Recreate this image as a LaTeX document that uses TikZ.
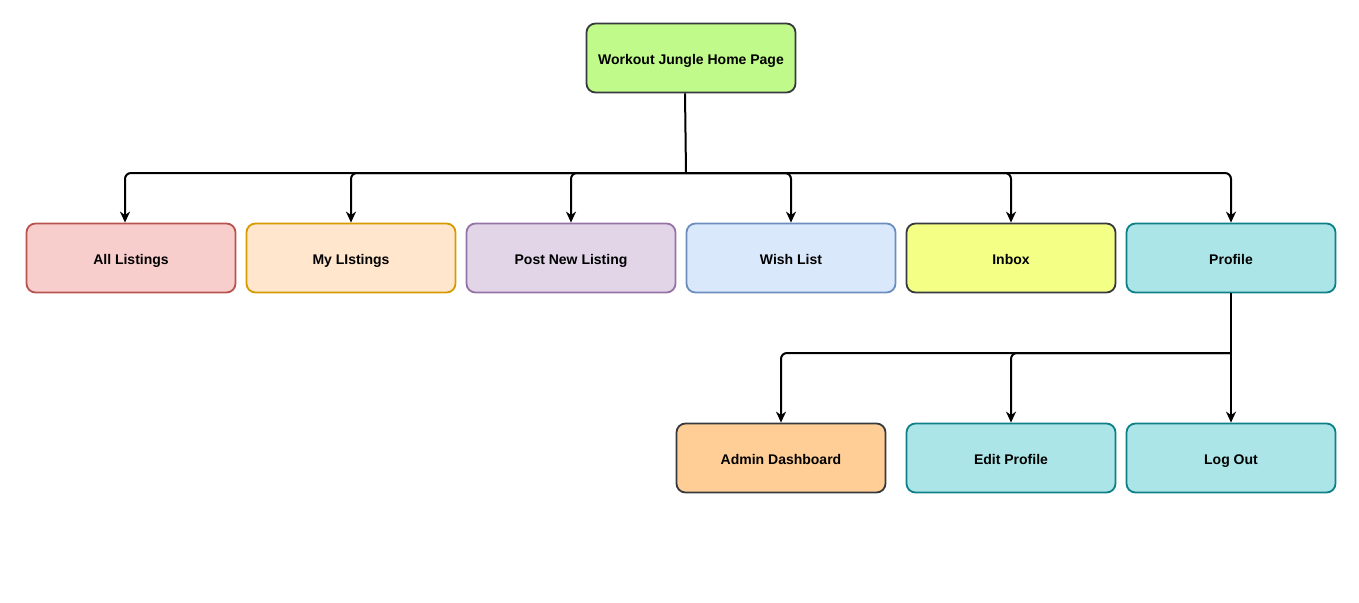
\documentclass[tikz,border=0pt]{standalone}
\usepackage{fontspec}
\setmainfont{Liberation Sans}
\usetikzlibrary{arrows.meta}
\definecolor{gfill}{HTML}{C0FA8A}
\definecolor{dstroke}{HTML}{36393D}
\definecolor{rfill}{HTML}{F8CECC}\definecolor{rstroke}{HTML}{B85450}
\definecolor{ofill}{HTML}{FFE6CC}\definecolor{ostroke}{HTML}{D79B00}
\definecolor{pfill}{HTML}{E1D5E7}\definecolor{pstroke}{HTML}{9673A6}
\definecolor{bfill}{HTML}{DAE8FC}\definecolor{bstroke}{HTML}{6C8EBF}
\definecolor{yfill}{HTML}{F3FF85}
\definecolor{tfill}{HTML}{ABE5E7}\definecolor{tstroke}{HTML}{0E8088}
\definecolor{afill}{HTML}{FFCE96}
\tikzset{
  box/.style={draw, rounded corners=9pt, line width=1.8pt, minimum width=209pt, minimum height=69pt,
    inner sep=0pt, text height=14pt, text depth=2pt,
    font=\fontsize{14}{16}\selectfont\bfseries, text=black},
  conn/.style={line width=2pt, black},
  arr/.style={conn, rounded corners=6pt, -{Stealth[length=11pt,width=10pt,inset=3.5pt]}},
}
\begin{document}
\begin{tikzpicture}[x=1pt,y=-1pt]
\useasboundingbox (0,0) rectangle (1359,602);
\node[box, fill=gfill, draw=dstroke] (home) at (691,58) {Workout Jungle Home Page};
\node[box, fill=rfill, draw=rstroke] (all) at (131,258) {All Listings};
\node[box, fill=ofill, draw=ostroke] (my) at (351,258) {My LIstings};
\node[box, fill=pfill, draw=pstroke] (post) at (571,258) {Post New Listing};
\node[box, fill=bfill, draw=bstroke] (wish) at (791,258) {Wish List};
\node[box, fill=yfill, draw=dstroke] (inbox) at (1011,258) {Inbox};
\node[box, fill=tfill, draw=tstroke] (profile) at (1231,258) {Profile};
\node[box, fill=afill, draw=dstroke] (admin) at (781,458) {Admin Dashboard};
\node[box, fill=tfill, draw=tstroke] (edit) at (1011,458) {Edit Profile};
\node[box, fill=tfill, draw=tstroke] (logout) at (1231,458) {Log Out};
\coordinate (bus) at (686,173);
\coordinate (pbus) at (1231,353);
\draw[conn] ([xshift=-6pt]home.south) -- (bus);
\draw[arr] (bus) -| ([xshift=-6pt]all.north);
\draw[arr] (bus) -| (my.north);
\draw[arr] (bus) -| (post.north);
\draw[arr] (bus) -| (wish.north);
\draw[arr] (bus) -| (inbox.north);
\draw[arr] (bus) -| (profile.north);
\draw[conn] (profile.south) -- (pbus);
\draw[arr] (pbus) -| (admin.north);
\draw[arr] (pbus) -| (edit.north);
\draw[arr] (profile.south) -- (logout.north);
\end{tikzpicture}
\end{document}
